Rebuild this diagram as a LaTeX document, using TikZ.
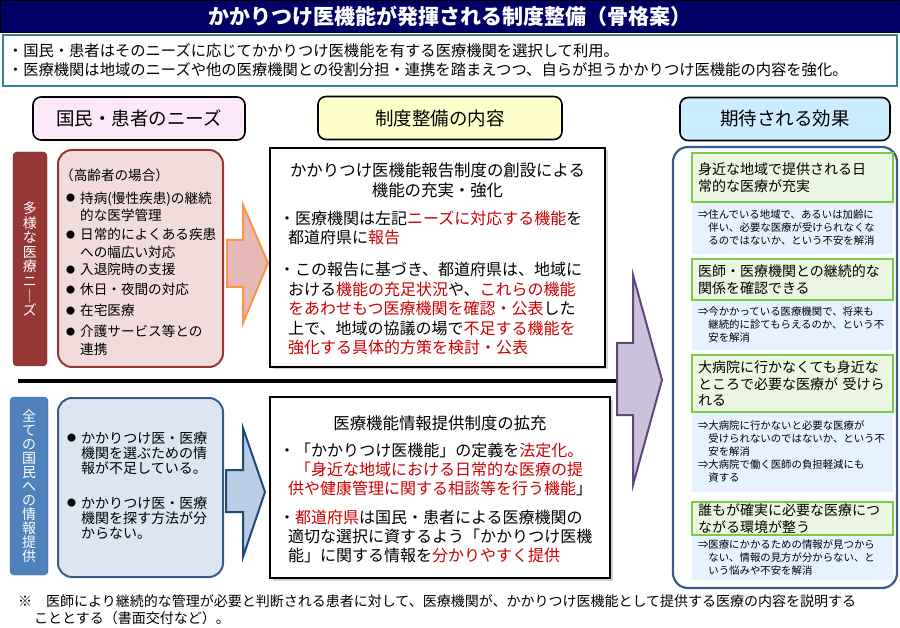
\documentclass[tikz,border=0pt]{standalone}
\usepackage{fontspec}
\setmainfont{Noto Sans CJK JP}
\usepackage{xcolor}
\usepackage{tikz}
\usetikzlibrary{shapes.geometric, arrows, positioning, shadows}
\definecolor{titlenavy}{RGB}{0, 0, 102}
\definecolor{introteal}{RGB}{49, 132, 155}
\definecolor{needpink}{RGB}{252, 232, 248}
\definecolor{planyellow}{RGB}{255, 255, 204}
\definecolor{effectblue}{RGB}{204, 236, 255}
\definecolor{darkred}{RGB}{149, 55, 53}
\definecolor{rosefill}{RGB}{242, 220, 219}
\definecolor{steelblue}{RGB}{79, 129, 189}
\definecolor{paleblue}{RGB}{220, 230, 242}
\definecolor{navyline}{RGB}{56, 93, 138}
\definecolor{arroworange}{RGB}{247, 150, 70}
\definecolor{arrowrose}{RGB}{230, 185, 184}
\definecolor{arrowblue}{RGB}{185, 205, 229}
\definecolor{arrowdeep}{RGB}{31, 73, 125}
\definecolor{lilac}{RGB}{204, 193, 218}
\definecolor{plum}{RGB}{95, 73, 122}
\definecolor{keyred}{RGB}{204, 0, 0}
\definecolor{leafline}{RGB}{120, 205, 70}
\definecolor{leaffill}{RGB}{235, 247, 225}
\definecolor{skyfill}{RGB}{230, 242, 255}

\newcommand{\redtxt}[1]{\textcolor{keyred}{#1}}
\newcommand{\dotbul}{\makebox[14pt][l]{\raisebox{1.5pt}{\fontsize{9}{9}\selectfont ●}}}

\begin{document}
\begin{tikzpicture}[x=1pt, y=-1pt]
    % Styles
    \tikzstyle{head} = [rectangle, draw, line width=1.6pt, rounded corners=8pt, minimum height=43pt, font=\fontsize{18.5}{20}\selectfont]
    \tikzstyle{bar} = [rectangle, rounded corners=4pt, text=white, align=center, inner sep=0pt]
    \tikzstyle{panel} = [rectangle, line width=2pt, rounded corners=14pt, minimum width=165pt]
    \tikzstyle{frame} = [rectangle, draw, line width=1.8pt, fill=white, drop shadow={shadow xshift=2.5pt, shadow yshift=-2.5pt, opacity=0.35}]
    \tikzstyle{list} = [anchor=west, align=left, inner sep=0pt]
    \tikzstyle{leaf} = [rectangle, draw=leafline, fill=leaffill, line width=1.2pt, text width=189pt, inner xsep=6pt, inner ysep=1pt, align=left, font=\fontsize{14}{16.5}\selectfont]
    \tikzstyle{sky} = [rectangle, fill=skyfill, text width=189pt, inner xsep=6pt, inner ysep=1pt, align=left, font=\fontsize{10.4}{13}\selectfont]
    \tikzstyle{blockarrow} = [line width=2pt, line join=miter]

    \useasboundingbox (0,0) rectangle (900,628);

    % Title and summary
    \node [rectangle, draw=black, fill=titlenavy, minimum width=900pt, minimum height=32pt, text=white, font=\fontsize{21}{24}\selectfont\bfseries] (title) at (450,16) {かかりつけ医機能が発揮される制度整備（骨格案）};
    \node [rectangle, draw=introteal, line width=1.5pt, minimum width=894pt, minimum height=51pt, text width=884pt, inner xsep=5pt, align=left, font=\fontsize{15.3}{19}\selectfont] (intro) at (450,60.5) {・国民・患者はそのニーズに応じてかかりつけ医機能を有する医療機関を選択して利用。\\・医療機関は地域のニーズや他の医療機関との役割分担・連携を踏まえつつ、自らが担うかかりつけ医機能の内容を強化。};

    % Column heads
    \node [head, fill=needpink, minimum width=212pt] (needs) at (139,118.5) {国民・患者のニーズ};
    \node [head, fill=planyellow, minimum width=244pt] (plan) at (440,118) {制度整備の内容};
    \node [head, fill=effectblue, minimum width=210pt] (effect) at (785,119) {期待される効果};

    % Needs
    \node [bar, fill=darkred, draw=darkred!60!black, minimum width=34pt, minimum height=214pt, font=\fontsize{14}{14.6}\selectfont] (variety) at (30,259) {多\\様\\な\\医\\療\\ニ\\｜\\ズ};
    \node [panel, draw=darkred, fill=rosefill, minimum height=217pt] (elder) at (140.5,258.5) {};
    \node [list, font=\fontsize{13.6}{17.5}\selectfont] (elderlist) at (66,262) {\hspace*{-6pt}（高齢者の場合）\\[5pt]
        \dotbul 持病(慢性疾患)の継続\\
        \hspace*{14pt}的な医学管理\\[1.5pt]
        \dotbul 日常的によくある疾患\\
        \hspace*{14pt}への幅広い対応\\
        \dotbul 入退院時の支援\\[2.5pt]
        \dotbul 休日・夜間の対応\\[3.5pt]
        \dotbul 在宅医療\\[3.5pt]
        \dotbul 介護サービス等との\\
        \hspace*{14pt}連携};

    \node [bar, fill=steelblue, draw=navyline, minimum width=38pt, minimum height=178pt, font=\fontsize{14}{14}\selectfont] (public) at (29,486) {全\\て\\の\\国\\民\\へ\\の\\情\\報\\提\\供};
    \node [panel, draw=navyline, fill=paleblue, minimum height=179pt] (seek) at (140.5,487.5) {};
    \node [list, font=\fontsize{14}{15}\selectfont] (seeklist) at (67,485.5) {\dotbul かかりつけ医・医療\\
        \hspace*{14pt}機関を選ぶための情\\
        \hspace*{14pt}報が不足している。\\[20pt]
        \dotbul かかりつけ医・医療\\
        \hspace*{14pt}機関を探す方法が分\\
        \hspace*{14pt}からない。};

    % Measures
    \node [frame, minimum width=335pt, minimum height=219pt] (report) at (437.5,257.5) {};
    \node [align=center, font=\fontsize{16.4}{20}\selectfont] (reporttitle) at (437.5,180) {かかりつけ医機能報告制度の創設による\\機能の充実・強化};
    \node [list, font=\fontsize{16}{19.5}\selectfont] (reportlist) at (279,283) {・医療機関は左記\redtxt{ニーズに対応する機能}を\\
        \hspace*{9pt}都道府県に\redtxt{報告}\\[12.5pt]
        ・この報告に基づき、都道府県は、地域に\\
        \hspace*{9pt}おける\redtxt{機能の充足状況}や、\redtxt{これらの機能}\\
        \hspace*{9pt}\redtxt{をあわせもつ医療機関を確認・公表}した\\
        \hspace*{9pt}上で、地域の協議の場で\redtxt{不足する機能を}\\
        \hspace*{9pt}\redtxt{強化する具体的方策を検討・公表}};

    \node [frame, minimum width=340pt, minimum height=181pt] (disclose) at (440,487.5) {};
    \node [font=\fontsize{16.4}{20}\selectfont] (disclosetitle) at (440,423) {医療機能情報提供制度の拡充};
    \node [list, font=\fontsize{16}{19}\selectfont] (discloselist) at (279,502.5) {・「かかりつけ医機能」の定義を\redtxt{法定化。}\\
        \hspace*{16pt}\redtxt{「身近な地域における日常的な医療の提}\\
        \hspace*{9pt}\redtxt{供や健康管理に関する相談等を行う機能}」\\[10pt]
        ・\redtxt{都道府県}は国民・患者による医療機関の\\
        \hspace*{9pt}適切な選択に資するよう「かかりつけ医機\\
        \hspace*{9pt}能」に関する情報を\redtxt{分かりやすく提供}};

    % Effects
    \node [rectangle, draw=navyline, line width=2.2pt, rounded corners=15pt, minimum width=224pt, minimum height=441pt] (gains) at (785,367.5) {};
    \node [sky, minimum height=52pt] (ease1) at (792.5,228) {⇒住んでいる地域で、あるいは加齢に\\\hspace*{1em}伴い、必要な医療が受けられなくな\\\hspace*{1em}るのではないか、という不安を解消};
    \node [leaf, minimum height=49pt] (gain1) at (792.5,177.5) {身近な地域で提供される日\\常的な医療が充実};
    \node [sky, minimum height=50pt] (ease2) at (792.5,325) {⇒今かかっている医療機関で、将来も\\\hspace*{1em}継続的に診てもらえるのか、という不\\\hspace*{1em}安を解消};
    \node [leaf, minimum height=41pt] (gain2) at (792.5,279.5) {医師・医療機関との継続的な\\関係を確認できる};
    \node [sky, minimum height=80pt] (ease3) at (792.5,452) {⇒大病院に行かないと必要な医療が\\\hspace*{1em}受けられないのではないか、という不\\\hspace*{1em}安を解消\\⇒大病院で働く医師の負担軽減にも\\\hspace*{1em}資する};
    \node [leaf, minimum height=57pt] (gain3) at (792.5,383.5) {大病院に行かなくても身近な\\ところで必要な医療が~受けら\\れる};
    \node [sky, minimum height=45pt] (ease4) at (792.5,557.5) {⇒医療にかかるための情報が見つから\\\hspace*{1em}ない、情報の見方が分からない、と\\\hspace*{1em}いう悩みや不安を解消};
    \node [leaf, minimum height=33pt] (gain4) at (792.5,518.5) {誰もが確実に必要な医療につ\\ながる環境が整う};

    % Arrows
    \draw [blockarrow, draw=arroworange, fill=arrowrose] (227,240) -- (243,240) -- (243,205) -- (268,263) -- (243,323) -- (243,287) -- (227,287) -- cycle;
    \draw [blockarrow, draw=arrowdeep, fill=arrowblue] (226,470) -- (243,470) -- (243,428) -- (265,492) -- (243,557) -- (243,512) -- (226,512) -- cycle;
    \draw [line width=4pt] (18,381) -- (618,381);
    \draw [blockarrow, draw=plum, fill=lilac] (617,343) -- (633,343) -- (633,275) -- (662,380) -- (633,485) -- (633,415) -- (617,415) -- cycle;

    % Note
    \node [list, font=\fontsize{14}{17}\selectfont] (note) at (18,609.5) {※　医師により継続的な管理が必要と判断される患者に対して、医療機関が、かかりつけ医機能として提供する医療の内容を説明する\\\hspace*{16pt}こととする（書面交付など）。};
\end{tikzpicture}
\end{document}
